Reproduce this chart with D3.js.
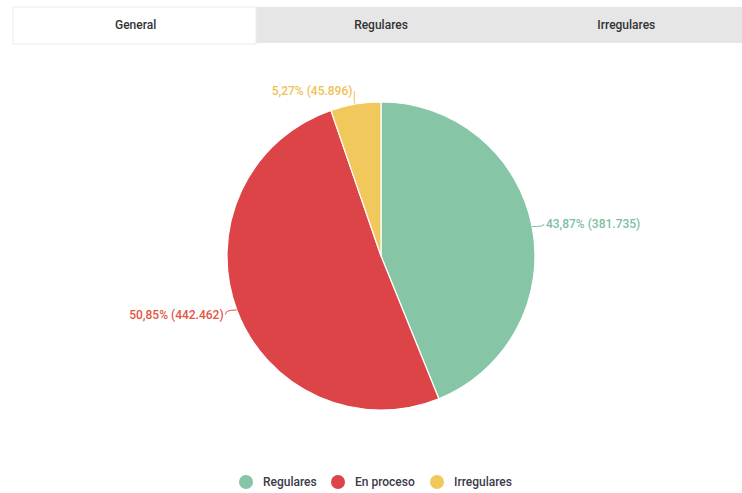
<!DOCTYPE html>
<html>
<head>
<meta charset="utf-8">
<script src="https://cdn.jsdelivr.net/npm/d3@7"></script>
<style>
  body { margin: 0; background: #fff; }
  svg { display: block; font-family: Roboto, "Noto Sans", sans-serif; }
</style>
</head>
<body>
<div id="chart"></div>
<script>
const tabs = ['General', 'Regulares', 'Irregulares'];
const categories = ['Regulares', 'En proceso', 'Irregulares'];
const values = [381735, 442462, 45896];
const percents = ['43,87%', '50,85%', '5,27%'];
const valueLabels = ['381.735', '442.462', '45.896'];
const colors = ['#86c5a6', '#dc4448', '#f1c85c'];
const labelColors = ['#7cbf9f', '#e3553f', '#f0c155'];

const width = 742, height = 493;
const svg = d3.select('#chart').append('svg')
  .attr('width', width)
  .attr('height', height);

// tab bar
const tabX = d3.scaleBand().domain(tabs).range([13, 749]);
svg.append('rect')
  .attr('x', 13).attr('y', 7)
  .attr('width', 729).attr('height', 36)
  .attr('fill', '#e6e6e6');
svg.append('rect')
  .attr('x', 13).attr('y', 7)
  .attr('width', 243).attr('height', 37)
  .attr('fill', '#fff')
  .attr('stroke', '#ececec');
svg.selectAll('.tab')
  .data(tabs)
  .enter().append('text')
    .attr('x', d => tabX(d) + tabX.bandwidth() / 2)
    .attr('y', 29)
    .attr('text-anchor', 'middle')
    .attr('font-size', 12)
    .attr('font-weight', 500)
    .attr('fill', '#333')
    .text(d => d);

// pie
const cx = 381, cy = 256, r = 154;
const data = categories.map((c, i) => ({
  name: c, value: values[i], pct: percents[i], lbl: valueLabels[i],
  color: colors[i], lcolor: labelColors[i]
}));
const pie = d3.pie().sort(null).value(d => d.value);
const arc = d3.arc().innerRadius(0).outerRadius(r);
const arcs = pie(data);

const g = svg.append('g').attr('transform', 'translate(' + cx + ',' + cy + ')');
g.selectAll('path')
  .data(arcs)
  .enter().append('path')
    .attr('d', arc)
    .attr('fill', d => d.data.color)
    .attr('stroke', '#fff')
    .attr('stroke-width', 1.2);

// labels
arcs.forEach(d => {
  const a = (d.startAngle + d.endAngle) / 2;
  const s = Math.sin(a), c = Math.cos(a);
  const p0 = [r * s, -r * c];
  const lr = r + 13;
  const p1 = [lr * s, -lr * c];
  const side = s >= 0 ? 1 : -1;
  g.append('path')
    .attr('d', 'M' + p0[0] + ',' + p0[1] + 'Q' + (p1[0]) + ',' + p0[1] + ' ' + (p1[0] - side * 1) + ',' + p1[1])
    .attr('fill', 'none')
    .attr('stroke', d.data.lcolor)
    .attr('stroke-width', 1);
  g.append('text')
    .attr('x', p1[0] + side * 1)
    .attr('y', p1[1] + 4)
    .attr('text-anchor', side > 0 ? 'start' : 'end')
    .attr('font-size', 12)
    .attr('font-weight', 500)
    .attr('fill', d.data.lcolor)
    .text(d.data.pct + ' (' + d.data.lbl + ')');
});

// legend
const legendX = [246, 338, 437];
const legend = svg.append('g');
categories.forEach((c, i) => {
  legend.append('circle')
    .attr('cx', legendX[i]).attr('cy', 482).attr('r', 7)
    .attr('fill', colors[i]);
  legend.append('text')
    .attr('x', legendX[i] + 17).attr('y', 486)
    .attr('font-size', 12)
    .attr('font-weight', 500)
    .attr('fill', '#3a3a4a')
    .text(c);
});
</script>
</body>
</html>
